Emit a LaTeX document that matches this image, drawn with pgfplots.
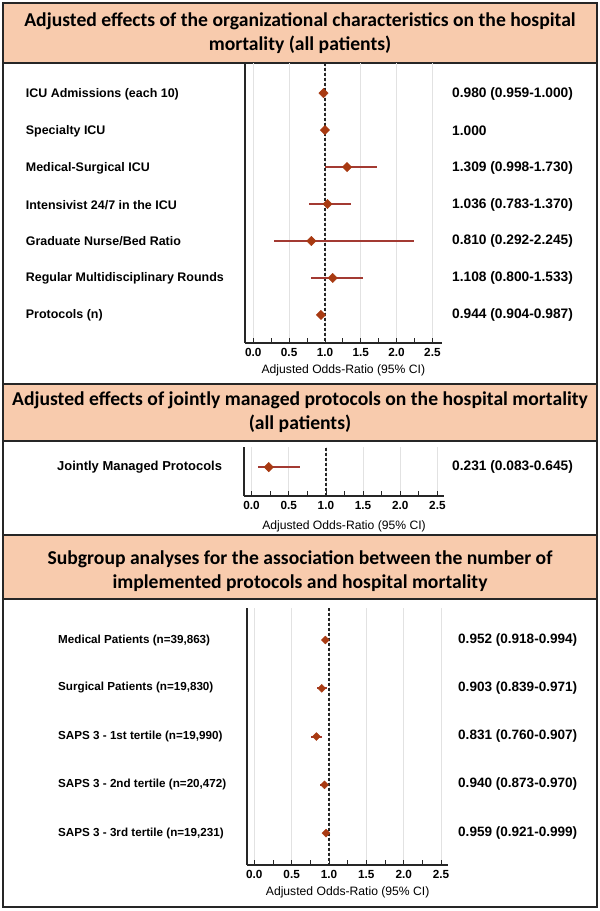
\documentclass[border=0pt]{standalone}
\usepackage{graphicx}
\usepackage{pgfplots}
\pgfplotsset{compat=1.18}
\usepackage{pgfplotstable}
\usepackage{fontspec}
\setmainfont{Liberation Sans}
\newfontfamily\calibri{Carlito}
\definecolor{hdr}{HTML}{F8CBAD}
\definecolor{mk}{HTML}{A83A12}
\definecolor{eb}{HTML}{A33A32}
\definecolor{grd}{HTML}{E2E2E2}
\definecolor{frm}{HTML}{262626}

\pgfplotstableread{
y or lo hi
1 0.980 0.959 1.000
2 1.000 1.000 1.000
3 1.309 0.998 1.730
4 1.036 0.783 1.370
5 0.810 0.292 2.245
6 1.108 0.800 1.533
7 0.944 0.904 0.987
}\tabA
\pgfplotstableread{
y or lo hi
0.59 0.231 0.083 0.645
}\tabB
\pgfplotstableread{
y or lo hi
1 0.952 0.918 0.994
2 0.903 0.839 0.971
3 0.831 0.760 0.907
4 0.940 0.873 0.970
5 0.959 0.921 0.999
}\tabC

\pgfplotsset{forest/.style={
  scale only axis,
  axis x line=bottom, axis y line=left,
  axis line style={-, line width=1.3bp, frm},
  y dir=reverse, ytick=\empty,
  xtick={0,0.5,1,1.5,2,2.5},
  xticklabels={0.0,0.5,1.0,1.5,2.0,2.5},
  minor x tick num=1,
  tick align=inside, major tick length=5bp, minor tick length=5bp,
  every tick/.style={frm, line width=0.8bp},
  xmajorgrids, grid style={grd, line width=0.8bp},
  xticklabel style={font=\bfseries\fontsize{11.8}{11.8}\selectfont, inner sep=1bp, yshift=-4bp},
  xlabel={Adjusted Odds-Ratio (95\% CI)},
  xlabel style={font=\fontsize{12.2}{12.2}\selectfont, at={(axis description cs:0.5,0)}, anchor=center},
  clip=false,
}}
\pgfplotsset{ci/.style={only marks, mark=square*, mark options={rotate=45, mk, draw=mk, fill=mk}, mark size=#1,
  error bars/.cd, x dir=both, x explicit, error bar style={eb, line width=2bp}, error mark=none}}
\pgfplotsset{refline/.style={frm, line width=1.4bp, dash pattern=on 3bp off 2bp}}

\begin{document}
\begin{tikzpicture}
\useasboundingbox (0,0) rectangle (600bp,-911bp);
\fill[white] (0,0) rectangle (600bp,-911bp);
% boxes
\fill[hdr] (3bp,-3bp) rectangle (597bp,-63bp);
\fill[hdr] (3bp,-384bp) rectangle (597bp,-441bp);
\fill[hdr] (3bp,-535bp) rectangle (597bp,-599bp);
\begin{scope}[frm, line width=2bp]
\draw (3bp,-3bp) rectangle (597bp,-907bp);
\draw (3bp,-63bp) -- (597bp,-63bp);
\draw (3bp,-384bp) -- (597bp,-384bp);
\draw (3bp,-441bp) -- (597bp,-441bp);
\draw (3bp,-535bp) -- (597bp,-535bp);
\draw (3bp,-599bp) -- (597bp,-599bp);
\end{scope}
% headers
\node[align=center, font=\calibri\bfseries\fontsize{19.7}{24}\selectfont, inner sep=0] at (300bp,-33bp)
  {Adjusted effects of the organizational characteristics on the hospital\\mortality (all patients)};
\node[align=center, font=\calibri\bfseries\fontsize{19.7}{24}\selectfont, inner sep=0] at (300bp,-412bp)
  {Adjusted effects of jointly managed protocols on the hospital mortality\\(all patients)};
\node[align=center, font=\calibri\bfseries\fontsize{19.7}{24}\selectfont, inner sep=0] at (300bp,-571bp)
  {Subgroup analyses for the association between the number of\\implemented protocols and hospital mortality};

% panel 1
\begin{axis}[forest, at={(245bp,-343bp)}, anchor=south west, width=196.7bp, height=280bp,
  xmin=-0.116, xmax=2.63, ymin=0.185, ymax=7.76,
  xlabel style={yshift=-27bp}]
\addplot[refline] coordinates {(1,0.185) (1,7.76)};
\addplot[ci=3.3bp] table[x=or, y=y, x error plus expr=\thisrow{hi}-\thisrow{or}, x error minus expr=\thisrow{or}-\thisrow{lo}] {\tabA};
\end{axis}
\begin{scope}[font=\bfseries\fontsize{12.5}{12.5}\selectfont]
\node[anchor=west, inner sep=0] at (25.7bp,-94bp) {ICU Admissions (each 10)};
\node[anchor=west, inner sep=0] at (25.7bp,-131bp) {Specialty ICU};
\node[anchor=west, inner sep=0] at (25.7bp,-168bp) {Medical-Surgical ICU};
\node[anchor=west, inner sep=0] at (25.7bp,-205bp) {Intensivist 24/7 in the ICU};
\node[anchor=west, inner sep=0] at (25.7bp,-241bp) {Graduate Nurse/Bed Ratio};
\node[anchor=west, inner sep=0] at (25.7bp,-278bp) {Regular Multidisciplinary Rounds};
\node[anchor=west, inner sep=0] at (25.7bp,-315bp) {Protocols (n)};
\end{scope}
\begin{scope}[font=\bfseries\fontsize{13.8}{13.8}\selectfont]
\node[anchor=west, inner sep=0] at (452bp,-94bp) {0.980 (0.959-1.000)};
\node[anchor=west, inner sep=0] at (452bp,-131bp) {1.000};
\node[anchor=west, inner sep=0] at (452bp,-168bp) {1.309 (0.998-1.730)};
\node[anchor=west, inner sep=0] at (452bp,-205bp) {1.036 (0.783-1.370)};
\node[anchor=west, inner sep=0] at (452bp,-241bp) {0.810 (0.292-2.245)};
\node[anchor=west, inner sep=0] at (452bp,-278bp) {1.108 (0.800-1.533)};
\node[anchor=west, inner sep=0] at (452bp,-315bp) {0.944 (0.904-0.987)};
\end{scope}

% panel 2
\begin{axis}[forest, at={(244bp,-496bp)}, anchor=south west, width=200bp, height=49bp,
  xmin=-0.102, xmax=2.589, ymin=0, ymax=1, y dir=normal,
  xlabel style={yshift=-30bp}]
\addplot[refline] coordinates {(1,0) (1,1)};
\addplot[ci=3.3bp] table[x=or, y=y, x error plus expr=\thisrow{hi}-\thisrow{or}, x error minus expr=\thisrow{or}-\thisrow{lo}] {\tabB};
\end{axis}
\node[anchor=west, inner sep=0, font=\bfseries\fontsize{13}{13}\selectfont] at (57bp,-467bp) {Jointly Managed Protocols};
\node[anchor=west, inner sep=0, font=\bfseries\fontsize{13.8}{13.8}\selectfont] at (452bp,-467bp) {0.231 (0.083-0.645)};

% panel 3
\begin{axis}[forest, at={(247bp,-865bp)}, anchor=south west, width=201.3bp, height=257bp,
  xmin=-0.098, xmax=2.597, ymin=0.337, ymax=5.66,
  xlabel style={yshift=-27bp}]
\addplot[refline] coordinates {(1,0.337) (1,5.66)};
\addplot[ci=2.8bp] table[x=or, y=y, x error plus expr=\thisrow{hi}-\thisrow{or}, x error minus expr=\thisrow{or}-\thisrow{lo}] {\tabC};
\end{axis}
\begin{scope}[font=\bfseries\fontsize{11.7}{11.7}\selectfont]
\node[anchor=west, inner sep=0] at (58bp,-640bp) {Medical Patients (n=39,863)};
\node[anchor=west, inner sep=0] at (58bp,-688bp) {Surgical Patients (n=19,830)};
\node[anchor=west, inner sep=0] at (58bp,-736bp) {SAPS 3 - 1st tertile (n=19,990)};
\node[anchor=west, inner sep=0] at (58bp,-784bp) {SAPS 3 - 2nd tertile (n=20,472)};
\node[anchor=west, inner sep=0] at (58bp,-833bp) {SAPS 3 - 3rd tertile (n=19,231)};
\end{scope}
\begin{scope}[font=\bfseries\fontsize{13.6}{13.6}\selectfont]
\node[anchor=west, inner sep=0] at (458bp,-640bp) {0.952 (0.918-0.994)};
\node[anchor=west, inner sep=0] at (458bp,-688bp) {0.903 (0.839-0.971)};
\node[anchor=west, inner sep=0] at (458bp,-736bp) {0.831 (0.760-0.907)};
\node[anchor=west, inner sep=0] at (458bp,-784bp) {0.940 (0.873-0.970)};
\node[anchor=west, inner sep=0] at (458bp,-833bp) {0.959 (0.921-0.999)};
\end{scope}
\end{tikzpicture}
\end{document}
